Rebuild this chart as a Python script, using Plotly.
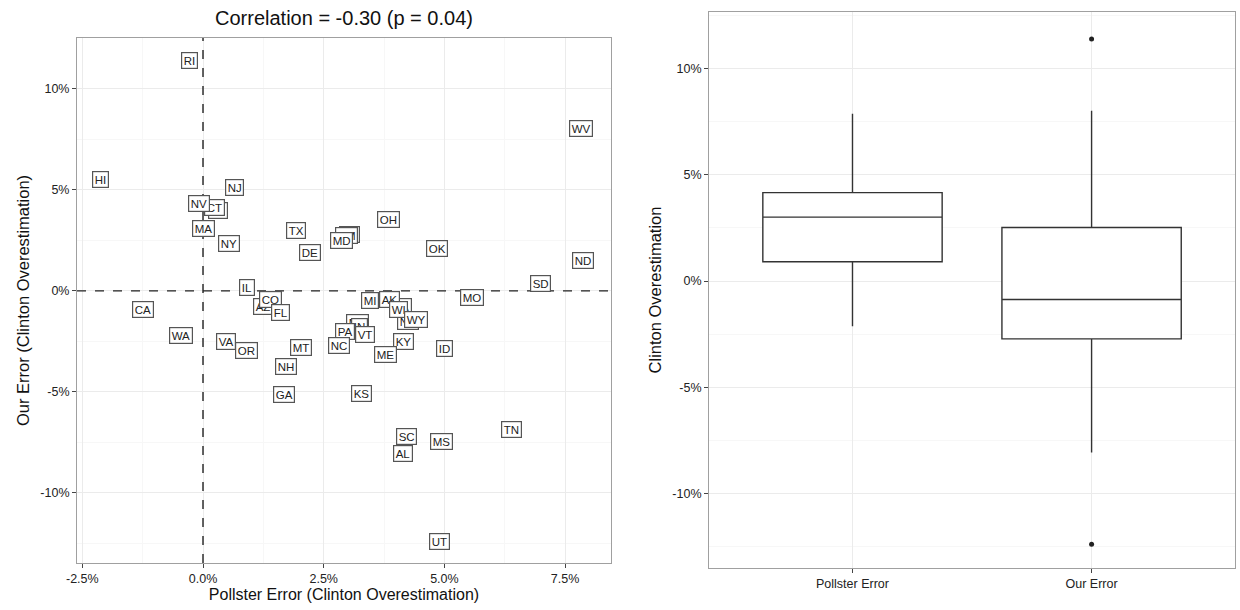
import plotly.graph_objects as go

# ---- data (percentage points) ----
states = ["LA", "CT", "AR", "NM", "AZ", "IA", "NE", "MN", "IN",
          "RI", "HI", "NJ", "NV", "MA", "NY", "TX", "MD", "DE", "OH", "OK",
          "WV", "ND", "SD", "MO", "IL", "CO", "FL", "CA", "WA", "VA", "OR",
          "MT", "NH", "GA", "MI", "AK", "WI", "WY", "PA", "VT", "NC", "KY",
          "ME", "ID", "KS", "SC", "MS", "AL", "TN", "UT"]
pollster_error = [0.32, 0.23, 3.04, 2.98, 1.24, 4.16, 4.24, 3.19, 3.25,
                  -0.29, -2.13, 0.66, -0.08, 0.02, 0.54, 1.93, 2.86, 2.22, 3.85, 4.84,
                  7.83, 7.87, 7.00, 5.57, 0.91, 1.39, 1.61, -1.24, -0.46, 0.48, 0.91,
                  2.03, 1.72, 1.68, 3.46, 3.87, 4.04, 4.41, 2.94, 3.35, 2.82, 4.16,
                  3.77, 5.01, 3.29, 4.22, 4.93, 4.14, 6.40, 4.89]
our_error = [3.98, 4.11, 2.80, 2.72, -0.79, -0.79, -1.49, -1.58, -1.78,
             11.39, 5.54, 5.10, 4.31, 3.07, 2.33, 2.97, 2.52, 1.88, 3.56, 2.08,
             8.02, 1.53, 0.35, -0.35, 0.15, -0.40, -1.09, -0.94, -2.23, -2.48, -2.97,
             -2.82, -3.76, -5.15, -0.45, -0.40, -0.94, -1.39, -2.03, -2.18, -2.72, -2.48,
             -3.17, -2.87, -5.10, -7.23, -7.43, -8.07, -6.88, -12.38]

title_text = "Correlation = -0.30 (p = 0.04)"
box_categories = ["Pollster Error", "Our Error"]

x_tickvals = [-2.5, 0.0, 2.5, 5.0, 7.5]
x_ticktext = ["-2.5%", "0.0%", "2.5%", "5.0%", "7.5%"]
x_minor = [-1.25, 1.25, 3.75, 6.25]
y_tickvals = [10, 5, 0, -5, -10]
y_ticktext = ["10%", "5%", "0%", "-5%", "-10%"]
y_minor = [12.5, 7.5, 2.5, -2.5, -7.5, -12.5]

FONT = "Liberation Sans, Arial, Helvetica, sans-serif"
GRID = "#ebebeb"
MINOR = "#f7f7f7"
BORDER = "#a0a0a0"

fig = go.Figure()

# invisible scatter so the axes exist with data
fig.add_trace(go.Scatter(x=pollster_error, y=our_error, mode="markers",
                         marker=dict(size=1, color="rgba(0,0,0,0)"),
                         hoverinfo="text", text=states, showlegend=False,
                         xaxis="x", yaxis="y"))

# state labels
for s, xv, yv in zip(states, pollster_error, our_error):
    fig.add_annotation(x=xv, y=yv, xref="x", yref="y", text=s, showarrow=False,
                       font=dict(family=FONT, size=11.5, color="#222222"),
                       bgcolor="white", bordercolor="#555555", borderwidth=1.2,
                       borderpad=1.5)

# box plots
for cat, vals in zip(box_categories, [pollster_error, our_error]):
    fig.add_trace(go.Box(y=vals, x=[cat] * len(vals), name=cat,
                         boxpoints="outliers", width=0.75, whiskerwidth=0,
                         fillcolor="white", line=dict(color="#333333", width=1.4),
                         marker=dict(color="#222222", size=5),
                         quartilemethod="linear", showlegend=False,
                         xaxis="x2", yaxis="y2"))

# dashed reference lines
fig.add_shape(type="line", xref="x", yref="y domain", x0=0, x1=0, y0=0, y1=1,
              line=dict(color="#222222", width=1.4, dash="dash"))
fig.add_shape(type="line", xref="x domain", yref="y", x0=0, x1=1, y0=0, y1=0,
              line=dict(color="#222222", width=1.4, dash="dash"))

axis_common = dict(showline=True, linecolor=BORDER, linewidth=1, mirror=True,
                   ticks="outside", ticklen=4, tickcolor="#444444",
                   showgrid=True, gridcolor=GRID, gridwidth=1, zeroline=False,
                   automargin=False,
                   tickfont=dict(family=FONT, size=12.5, color="#222222"))

fig.update_layout(
    width=1240, height=610,
    margin=dict(l=0, r=0, t=0, b=0),
    paper_bgcolor="white", plot_bgcolor="white",
    font=dict(family=FONT),
    xaxis=dict(domain=[0.0621, 0.4927], range=[-2.61, 8.45],
               tickvals=x_tickvals, ticktext=x_ticktext,
               minor=dict(tickvals=x_minor, showgrid=True, gridcolor=MINOR, ticklen=0),
               title=dict(text="Pollster Error (Clinton Overestimation)",
                          font=dict(family=FONT, size=16, color="#111111"), standoff=1),
               anchor="y", **axis_common),
    yaxis=dict(domain=[0.077, 0.9377], range=[-13.47, 12.52],
               tickvals=y_tickvals, ticktext=y_ticktext,
               minor=dict(tickvals=y_minor, showgrid=True, gridcolor=MINOR, ticklen=0),
               title=dict(text="Our Error (Clinton Overestimation)",
                          font=dict(family=FONT, size=16.5, color="#111111"), standoff=6),
               anchor="x", **axis_common),
    xaxis2=dict(domain=[0.5718, 0.996], range=[-0.6, 1.6], type="category",
                categoryorder="array", categoryarray=box_categories,
                anchor="y2", **axis_common),
    yaxis2=dict(domain=[0.0689, 0.9803], range=[-13.5, 12.66],
                tickvals=y_tickvals, ticktext=y_ticktext,
                minor=dict(tickvals=y_minor, showgrid=True, gridcolor=MINOR, ticklen=0),
                title=dict(text="Clinton Overestimation",
                           font=dict(family=FONT, size=16.5, color="#111111"), standoff=6),
                anchor="x2", **axis_common),
)

fig.add_annotation(text=title_text, xref="paper", yref="paper",
                   x=0.2774, y=0.970, xanchor="center", yanchor="middle",
                   showarrow=False, font=dict(family=FONT, size=20, color="#111111"))

fig.write_html("out.html", config={"displayModeBar": False},
               post_script="document.body.style.margin='0px';document.body.style.overflow='hidden';")
